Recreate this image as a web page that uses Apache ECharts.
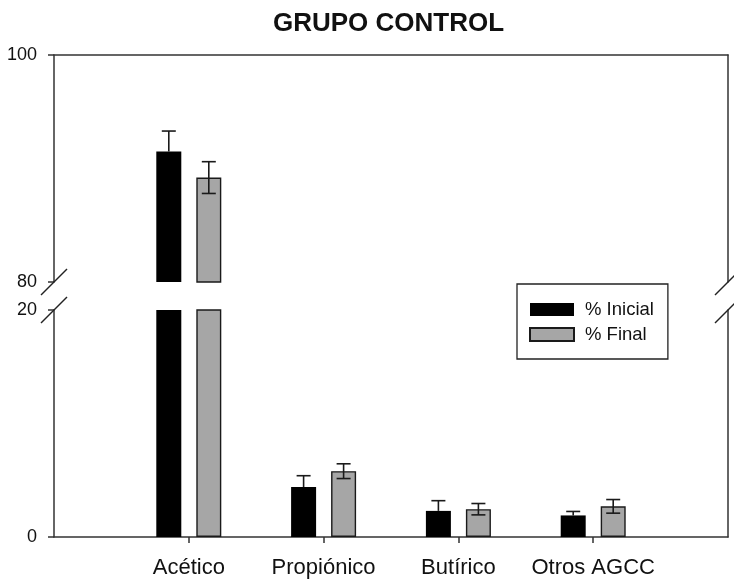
<!DOCTYPE html>
<html>
<head>
<meta charset="utf-8">
<script src="https://cdn.jsdelivr.net/npm/echarts@6/dist/echarts.min.js"></script>
<style>html,body{margin:0;padding:0;background:#fff}#c{width:734px;height:583px}</style>
</head>
<body>
<div id="c"></div>
<script>
// ---- data ----
const titleText = 'GRUPO CONTROL';
const categories = ['Acético', 'Propiónico', 'Butírico', 'Otros AGCC'];
const seriesNames = ['% Inicial', '% Final'];
const inicial = [91.5, 4.4, 2.3, 1.9];
const inicialErr = [1.8, 1.0, 0.9, 0.35];
const final = [89.2, 5.8, 2.45, 2.7];
const finalErr = [1.4, 0.65, 0.5, 0.6];
const upperRange = [80, 100];
const lowerRange = [0, 20];

// ---- styling ----
const FONT = "'Liberation Sans', Arial, sans-serif";
const AX = '#333';
const BAR_W = 25;
const BAR_GAP_PX = 15;
const OFF = (BAR_W + BAR_GAP_PX) / 2;
const CAP = 7;

const axisData = [''].concat(categories, ['']);
const pad = arr => ['-'].concat(arr, ['-']);
const inRange = (arr, r) => arr.map(v => (v >= r[0] ? v : '-'));

function errData(means, errs, r) {
  const out = [];
  means.forEach((m, i) => {
    if (m >= r[0] && m <= r[1]) out.push([i + 1, m, errs[i]]);
  });
  return out;
}

function errRender(offset, both) {
  return function (params, api) {
    const x = api.value(0), m = api.value(1), e = api.value(2);
    const pTop = api.coord([x, m + e]);
    const pMid = api.coord([x, m]);
    const pBot = api.coord([x, m - e]);
    const cx = pMid[0] + offset;
    const st = { stroke: '#1a1a1a', lineWidth: 1.6 };
    const ch = [
      { type: 'line', shape: { x1: cx, y1: pTop[1], x2: cx, y2: both ? pBot[1] : pMid[1] }, style: st },
      { type: 'line', shape: { x1: cx - CAP, y1: pTop[1], x2: cx + CAP, y2: pTop[1] }, style: st }
    ];
    if (both) ch.push({ type: 'line', shape: { x1: cx - CAP, y1: pBot[1], x2: cx + CAP, y2: pBot[1] }, style: st });
    return { type: 'group', children: ch };
  };
}

const grids = [
  { left: 54, right: 6, top: 55, height: 227 },
  { left: 54, right: 6, top: 310, bottom: 46 }
];

const tickFn = (idx) => idx > 0 && idx < axisData.length - 1;

const option = {
  animation: false,
  textStyle: { fontFamily: FONT },
  title: {
    text: titleText, left: 268, top: 6,
    textStyle: { fontFamily: FONT, fontSize: 26, fontWeight: 'bold', color: '#111' }
  },
  legend: {
    orient: 'vertical', left: 517, top: 284,
    padding: [16, 14, 15, 12],
    borderColor: '#222', borderWidth: 1.3,
    itemWidth: 44, itemHeight: 13, itemGap: 6,
    icon: 'rect',
    data: seriesNames,
    textStyle: { fontFamily: FONT, fontSize: 18.5, color: '#111', padding: [0, 0, 0, 6] }
  },
  grid: grids,
  xAxis: [
    {
      gridIndex: 0, type: 'category', data: axisData, boundaryGap: false, position: 'top',
      axisLine: { show: true, onZero: false, lineStyle: { color: AX, width: 1.5 } },
      axisTick: { show: false }, axisLabel: { show: false }, splitLine: { show: false }
    },
    {
      gridIndex: 1, type: 'category', data: axisData, boundaryGap: false, position: 'bottom',
      axisLine: { show: true, onZero: false, lineStyle: { color: AX, width: 1.5 } },
      axisTick: { show: true, interval: tickFn, length: 6, lineStyle: { color: AX, width: 1.5 } },
      axisLabel: { show: true, interval: 0, margin: 20, fontFamily: FONT, fontSize: 22, color: '#111' },
      splitLine: { show: false }
    }
  ],
  yAxis: [
    {
      gridIndex: 0, type: 'value', min: upperRange[0], max: upperRange[1], interval: 20, position: 'left',
      axisLine: { show: true, lineStyle: { color: AX, width: 1.5 } },
      axisTick: { show: true, length: 6, lineStyle: { color: AX, width: 1.5 } },
      axisLabel: { margin: 17, fontFamily: FONT, fontSize: 18, color: '#111' },
      splitLine: { show: false }
    },
    {
      gridIndex: 1, type: 'value', min: lowerRange[0], max: lowerRange[1], interval: 20, position: 'left',
      axisLine: { show: true, lineStyle: { color: AX, width: 1.5 } },
      axisTick: { show: true, length: 6, lineStyle: { color: AX, width: 1.5 } },
      axisLabel: { margin: 17, fontFamily: FONT, fontSize: 18, color: '#111' },
      splitLine: { show: false }
    },
    {
      gridIndex: 0, type: 'value', min: upperRange[0], max: upperRange[1], interval: 20, position: 'right',
      axisLine: { show: true, lineStyle: { color: AX, width: 1.5 } },
      axisTick: { show: false }, axisLabel: { show: false }, splitLine: { show: false }
    },
    {
      gridIndex: 1, type: 'value', min: lowerRange[0], max: lowerRange[1], interval: 20, position: 'right',
      axisLine: { show: true, lineStyle: { color: AX, width: 1.5 } },
      axisTick: { show: false }, axisLabel: { show: false }, splitLine: { show: false }
    }
  ],
  series: [
    {
      name: seriesNames[0], type: 'bar', xAxisIndex: 0, yAxisIndex: 0, barWidth: BAR_W, barGap: (BAR_GAP_PX / BAR_W * 100) + '%',
      clip: true, itemStyle: { color: '#000' }, data: pad(inRange(inicial, upperRange))
    },
    {
      name: seriesNames[1], type: 'bar', xAxisIndex: 0, yAxisIndex: 0, barWidth: BAR_W,
      clip: true, itemStyle: { color: '#a6a6a6', borderColor: '#1a1a1a', borderWidth: 1.4 }, data: pad(inRange(final, upperRange))
    },
    {
      name: seriesNames[0], type: 'bar', xAxisIndex: 1, yAxisIndex: 1, barWidth: BAR_W, barGap: (BAR_GAP_PX / BAR_W * 100) + '%',
      clip: true, itemStyle: { color: '#000' }, data: pad(inicial)
    },
    {
      name: seriesNames[1], type: 'bar', xAxisIndex: 1, yAxisIndex: 1, barWidth: BAR_W,
      clip: true, itemStyle: { color: '#a6a6a6', borderColor: '#1a1a1a', borderWidth: 1.4 }, data: pad(final)
    },
    { type: 'custom', xAxisIndex: 0, yAxisIndex: 0, renderItem: errRender(-OFF, false), data: errData(inicial, inicialErr, upperRange), z: 5 },
    { type: 'custom', xAxisIndex: 0, yAxisIndex: 0, renderItem: errRender(OFF, true), data: errData(final, finalErr, upperRange), z: 5 },
    { type: 'custom', xAxisIndex: 1, yAxisIndex: 1, renderItem: errRender(-OFF, false), data: errData(inicial, inicialErr, lowerRange), z: 5 },
    { type: 'custom', xAxisIndex: 1, yAxisIndex: 1, renderItem: errRender(OFF, true), data: errData(final, finalErr, lowerRange), z: 5 }
  ]
};

const chart = echarts.init(document.getElementById('c'), null, { renderer: 'canvas' });
chart.setOption(option);

// axis-break slashes, positioned from the axes
const S = 13;
const pts = [
  chart.convertToPixel({ xAxisIndex: 0, yAxisIndex: 0 }, [0, upperRange[0]]),
  chart.convertToPixel({ xAxisIndex: 0, yAxisIndex: 0 }, [axisData.length - 1, upperRange[0]]),
  chart.convertToPixel({ xAxisIndex: 1, yAxisIndex: 1 }, [0, lowerRange[1]]),
  chart.convertToPixel({ xAxisIndex: 1, yAxisIndex: 1 }, [axisData.length - 1, lowerRange[1]])
];
chart.setOption({
  graphic: pts.map(p => ({
    type: 'line', z: 100,
    shape: { x1: p[0] - S, y1: p[1] + S, x2: p[0] + S, y2: p[1] - S },
    style: { stroke: '#222', lineWidth: 1.5 }
  }))
});
</script>
</body>
</html>
